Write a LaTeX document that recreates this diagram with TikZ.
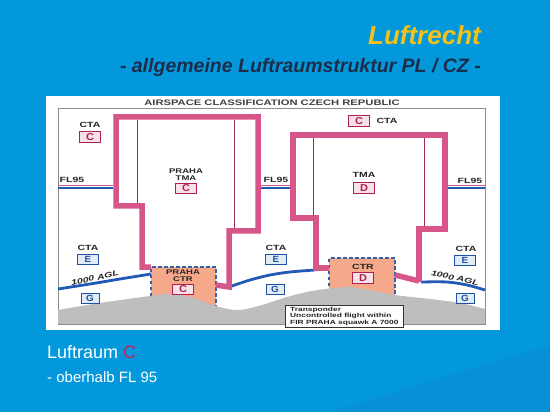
\documentclass[tikz,border=0pt]{standalone}
\usepackage{fontspec}
\setmainfont{Liberation Sans}
\newfontfamily\diagfont[FakeStretch=1.4]{Liberation Sans}
\newfontfamily\boxfont[FakeStretch=1.1]{Liberation Sans}
\definecolor{bg}{HTML}{0398DC}
\definecolor{bgdark}{HTML}{0790D6}
\definecolor{ttl}{HTML}{F2C21B}
\definecolor{subttl}{HTML}{1C2D4A}
\definecolor{crimson}{HTML}{C8205A}
\definecolor{pinkline}{HTML}{D6568A}
\definecolor{pinkthin}{HTML}{9A2C62}
\definecolor{ctrfill}{HTML}{F6A88A}
\definecolor{aglblue}{HTML}{2259B4}
\definecolor{terrain}{HTML}{BEBEBE}
\definecolor{boxred}{HTML}{B0204A}
\definecolor{boxpink}{HTML}{F8E2EA}
\definecolor{boxblue}{HTML}{2050A0}
\definecolor{boxlblue}{HTML}{E2ECF8}
\definecolor{framegray}{HTML}{8C8C8C}
\tikzset{
  lbl/.style={inner sep=0pt, font=\diagfont\bfseries\fontsize{7.5}{7.5}\selectfont, text=black!85},
  smlbl/.style={inner sep=0pt, font=\diagfont\bfseries\fontsize{6.8}{6.8}\selectfont, text=black!85},
  redbox/.style={draw=boxred, fill=boxpink, line width=0.9pt, minimum width=21pt, minimum height=10.5pt, inner sep=0pt, font=\boxfont\bfseries\fontsize{10}{10}\selectfont, text=boxred},
  bluebox/.style={draw=boxblue, fill=boxlblue, line width=0.9pt, minimum width=21pt, minimum height=10pt, inner sep=0pt, font=\boxfont\bfseries\fontsize{9}{9}\selectfont, text=boxblue},
  gbox/.style={bluebox, minimum width=18pt},
  tma/.style={draw=pinkline, line width=5.5pt, line join=miter},
  tmathin/.style={draw=pinkthin, line width=0.7pt},
  agl/.style={draw=aglblue, line width=2.8pt},
  ctrdash/.style={draw=aglblue!80!gray, line width=1.2pt, dash pattern=on 3.5pt off 2.5pt},
  flpink/.style={draw=pinkline, line width=1.5pt},
  flblue/.style={draw=aglblue, line width=2.6pt}
}
\begin{document}
\begin{tikzpicture}[x=1pt,y=-1pt]
\useasboundingbox (0,0) rectangle (550,412);
\fill[bg] (0,0) rectangle (550,412);
\fill[bgdark] (330,412) -- (550,345) -- (550,412) -- cycle;

% titles
\node[anchor=base east, inner sep=0pt, font=\fontsize{26}{26}\selectfont\bfseries\itshape, text=ttl] (title) at (481,45) {Luftrecht};
\node[anchor=base east, inner sep=0pt, font=\fontsize{19.5}{19.5}\selectfont\bfseries\itshape, text=subttl] (subtitle) at (481,73) {- allgemeine Luftraumstruktur PL / CZ -};

% panel
\fill[white] (46,96) rectangle (500,330);
\draw[framegray, line width=0.6pt] (58,108) rectangle (485,324);
\node[lbl, font=\diagfont\bfseries\fontsize{8}{8}\selectfont, text=black!75] (head) at (272,103) {AIRSPACE CLASSIFICATION CZECH REPUBLIC};

% control zones
\fill[ctrfill] (151,267) rectangle (216,314);
\draw[ctrdash] (151,314) -- (151,267) -- (216,267) -- (216,314);
\fill[ctrfill] (329,258) rectangle (395,304);
\draw[ctrdash] (329,304) -- (329,258) -- (395,258) -- (395,304);

% terrain
\fill[terrain] plot[smooth, tension=0.6] coordinates {(58,310) (100,303) (150,296) (168,294) (190,297) (216,306) (238,310) (262,305) (287,297) (312,291) (335,288) (350,287) (370,290) (395,295) (430,299) (460,303) (485,309)} -- (485,324) -- (58,324) -- cycle;
\draw[framegray, line width=0.6pt] (58,324) -- (485,324);

% 1000 ft AGL lines
\draw[agl] plot[smooth] coordinates {(58,289) (90,284) (120,279) (151,274)};
\draw[agl] plot[smooth] coordinates {(229,287) (250,280) (270,275) (290,272) (315,270)};
\draw[agl] plot[smooth] coordinates {(421,282) (447,282) (467,285) (485,290)};

% FL95 lines
\draw[flblue] (58,188) -- (113,188);
\draw[flpink] (58,185.5) -- (113,185.5);
\draw[flblue] (261,188) -- (290,188);
\draw[flpink] (261,185.5) -- (290,185.5);
\draw[flblue] (448,188) -- (485,188);
\draw[flpink] (448,185.5) -- (485,185.5);

% TMA PRAHA (C)
\draw[tma] (151,267) -- (142,267) -- (142,206) -- (116,206) -- (116,117) -- (258,117) -- (258,231) -- (229,231) -- (229,287) -- (216,285);
\draw[tmathin] (137,120) -- (137,203);
\draw[tmathin] (234,120) -- (234,228);
% TMA (D)
\draw[tma] (329,268) -- (316,268) -- (316,218) -- (293,218) -- (293,135) -- (445,135) -- (445,229) -- (419,229) -- (419,282);
\draw[tma] (395,275) -- (419,281);
\draw[tmathin] (313,138) -- (313,215);
\draw[tmathin] (424,138) -- (424,226);

% labels
\node[lbl] (ctaC1) at (90,125) {CTA};
\node[redbox] (boxC1) at (90,137) {C};
\node[lbl] (fl1) at (72,180) {FL95};
\node[lbl] (fl2) at (276,180) {FL95};
\node[lbl] (fl3) at (470,181) {FL95};
\node[smlbl] (praha1) at (186,171.3) {PRAHA};
\node[smlbl] (tma1) at (186,178.3) {TMA};
\node[redbox] (boxC2) at (186,188.5) {C};
\node[redbox] (boxC3) at (359,121) {C};
\node[lbl] (ctaC3) at (387,121) {CTA};
\node[lbl] (tma2) at (364,175) {TMA};
\node[redbox] (boxD1) at (364,188) {D};

\node[lbl] (ctaE1) at (88,248) {CTA};
\node[bluebox] (boxE1) at (88,259) {E};
\node[gbox] (boxG1) at (90,298) {G};
\node[lbl] (ctaE2) at (276,248) {CTA};
\node[bluebox] (boxE2) at (276,259) {E};
\node[gbox] (boxG2) at (275,289) {G};
\node[lbl] (ctaE3) at (466,249) {CTA};
\node[bluebox] (boxE3) at (465,260) {E};
\node[gbox] (boxG3) at (465,298) {G};

\node[lbl, rotate=12, font=\diagfont\bfseries\itshape\fontsize{7.5}{7.5}\selectfont] (agl1) at (95,278) {1000 AGL};
\node[lbl, rotate=-12, font=\diagfont\bfseries\itshape\fontsize{7.5}{7.5}\selectfont] (agl2) at (455,278) {1000 AGL};

\node[smlbl] (praha2) at (183,271.8) {PRAHA};
\node[smlbl] (ctr1) at (183,278.8) {CTR};
\node[redbox] (boxC4) at (183,289.5) {C};
\node[lbl] (ctr2) at (363,267) {CTR};
\node[redbox] (boxD2) at (363,278) {D};

\node[draw=black!80, fill=white, line width=0.6pt, anchor=north west, minimum width=118pt, minimum height=17pt, inner xsep=3pt, inner ysep=1.5pt, align=left, text=black!85,
  font=\diagfont\bfseries\fontsize{6}{5.2}\selectfont] (xpdr) at (285,305) {Transponder\\Uncontrolled flight within\\FIR PRAHA squawk A 7000};

% bottom text
\node[anchor=base west, inner sep=0pt, font=\fontsize{18}{18}\selectfont, text=white] (lr) at (47,358) {Luftraum \textcolor{crimson}{C}};
\node[anchor=base west, inner sep=0pt, font=\fontsize{15}{15}\selectfont, text=white] (fl) at (47,382) {- oberhalb FL 95};
\end{tikzpicture}
\end{document}
